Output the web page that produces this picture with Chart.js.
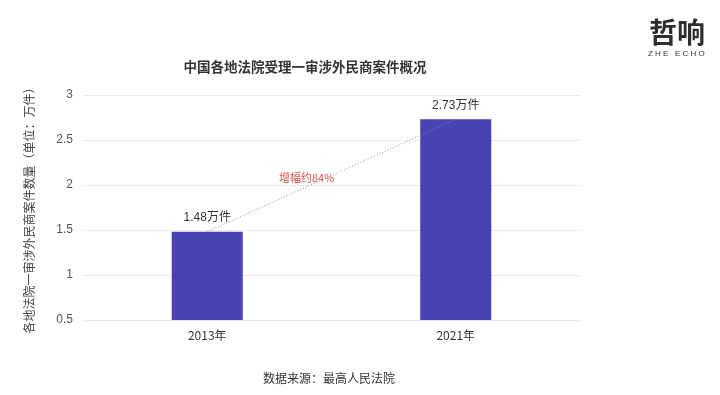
<!DOCTYPE html>
<html>
<head>
<meta charset="utf-8">
<script src="https://cdn.jsdelivr.net/npm/chart.js@4/dist/chart.umd.min.js"></script>
<style>
  html, body { margin: 0; padding: 0; background: #fff; }
  #wrap { width: 720px; height: 395px; position: relative; }
</style>
</head>
<body>
<div id="wrap"><canvas id="caseChart"></canvas></div>
<script>
const years = ["2013年", "2021年"];
const cases = [1.48, 2.73];
const caseLabels = ["1.48万件", "2.73万件"];
const yTicks = [0.5, 1, 1.5, 2, 2.5, 3];
const growthLabel = "增幅约84%";

const FONT = '"Liberation Sans", "Noto Sans CJK SC", sans-serif';
const CJK = '"Noto Sans CJK SC", "Liberation Sans", sans-serif';

// textos extra: titulo, fuente, logo, etiquetas y linea de crecimiento
const extras = {
  id: "extras",
  afterDatasetsDraw(chart) {
    const ctx = chart.ctx;
    const bars = chart.getDatasetMeta(0).data;
    ctx.save();

    // etiquetas sobre las barras
    ctx.font = "12px " + FONT;
    ctx.fillStyle = "#333";
    ctx.textAlign = "center";
    ctx.textBaseline = "middle";
    bars.forEach((b, i) => ctx.fillText(caseLabels[i], b.x, b.y - 14));

    // linea punteada entre las barras
    const a = bars[0], b = bars[1];
    ctx.strokeStyle = "#6f9c9a";
    ctx.lineWidth = 1;
    ctx.setLineDash([1, 2]);
    ctx.beginPath();
    ctx.moveTo(a.x, a.y);
    ctx.lineTo(b.x, b.y);
    ctx.stroke();
    ctx.setLineDash([]);

    const lx = a.x + (b.x - a.x) * 0.4;
    const ly = a.y + (b.y - a.y) * 0.4 - 9;
    ctx.font = "11px " + CJK;
    ctx.fillStyle = "#d9534f";
    ctx.fillText(growthLabel, lx, ly);

    // titulo
    ctx.font = "bold 13.5px " + CJK;
    ctx.fillStyle = "#333";
    ctx.fillText("中国各地法院受理一审涉外民商案件概况", 305, 67);

    // fuente
    ctx.font = "12px " + CJK;
    ctx.fillStyle = "#333";
    ctx.fillText("数据来源：最高人民法院", 329, 378);

    // logo
    ctx.font = "bold 28px " + CJK;
    ctx.fillStyle = "#2e2e2e";
    ctx.fillText("哲响", 677, 32);
    ctx.font = "8px " + FONT;
    ctx.fillStyle = "#333";
    ctx.textAlign = "left";
    if ("letterSpacing" in ctx) ctx.letterSpacing = "2.2px";
    ctx.fillText("ZHE ECHO", 648, 54);

    ctx.restore();
  },
};

new Chart(document.getElementById("caseChart"), {
  type: "bar",
  data: {
    labels: years,
    datasets: [
      {
        label: "涉外民商案件",
        data: cases,
        backgroundColor: "#4842b2",
        categoryPercentage: 1,
        barPercentage: 0.286,
      },
    ],
  },
  options: {
    responsive: true,
    maintainAspectRatio: false,
    animation: false,
    layout: { padding: { left: 0, right: 140, top: 95, bottom: 45 } },
    plugins: {
      legend: { display: false },
      tooltip: { enabled: false },
    },
    scales: {
      x: {
        grid: { display: false, drawTicks: false },
        border: { color: "#e4e4e4" },
        ticks: { color: "#333", font: { size: 12, family: CJK }, padding: 8 },
        afterFit: (s) => { s.height = 30; },
      },
      y: {
        min: 0.5,
        max: 3,
        afterBuildTicks: (s) => { s.ticks = yTicks.map((v) => ({ value: v })); },
        grid: { color: "#ebebeb", drawTicks: false },
        border: { display: false },
        ticks: {
          color: "#555",
          font: { size: 12, family: FONT },
          padding: 10,
          callback: (v) => String(v),
        },
        title: {
          display: true,
          text: "各地法院一审涉外民商案件数量（单位：万件）",
          color: "#444",
          font: { size: 12, family: CJK },
          padding: { top: 22, bottom: 0 },
        },
        afterFit: (s) => { s.width = 83; },
      },
    },
  },
  plugins: [extras],
});
</script>
</body>
</html>
